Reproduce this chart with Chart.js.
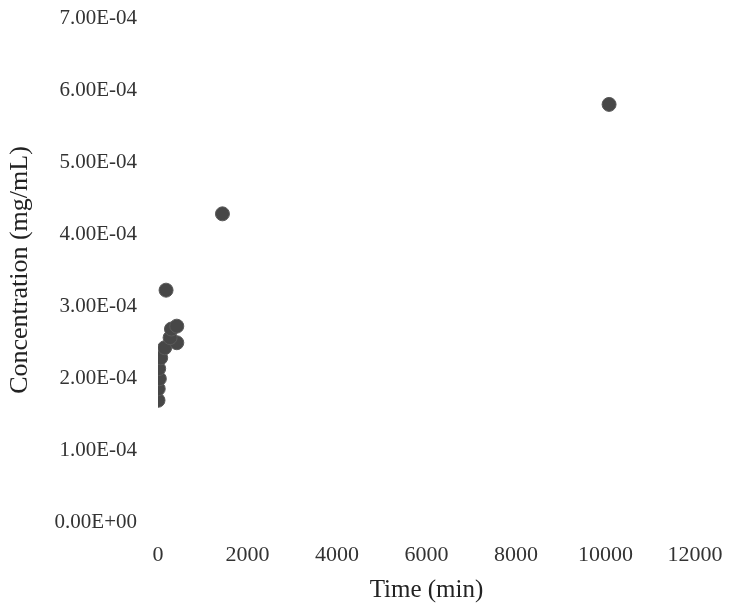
<!DOCTYPE html>
<html>
<head>
<meta charset="utf-8">
<script src="https://cdn.jsdelivr.net/npm/chart.js@4/dist/chart.umd.min.js"></script>
<style>
  html, body { margin: 0; padding: 0; background: #ffffff; }
  #wrap { width: 730px; height: 608px; }
</style>
</head>
<body>
<div id="wrap"><canvas id="c" width="730" height="608"></canvas></div>
<script>
// Time (min)
const timeMin = [0, 5, 30, 15, 60, 150, 420, 270, 300, 420, 180, 1440, 10080];
// Concentration (mg/mL)
const concentration = [1.69e-4, 1.85e-4, 1.99e-4, 2.13e-4, 2.28e-4, 2.42e-4, 2.49e-4, 2.56e-4, 2.68e-4, 2.72e-4, 3.22e-4, 4.28e-4, 5.80e-4];
const xTicks = [0, 2000, 4000, 6000, 8000, 10000, 12000];
const yTicks = [0, 1e-4, 2e-4, 3e-4, 4e-4, 5e-4, 6e-4, 7e-4];

function sci(v) {
  if (Math.abs(v) < 1e-12) return '0.00E+00';
  const s = v.toExponential(2).toUpperCase();
  const [m, e] = s.split('E');
  const sign = e[0] === '-' ? '-' : '+';
  const digits = e.replace(/[+-]/, '').padStart(2, '0');
  return m + 'E' + sign + digits;
}

const points = timeMin.map((t, i) => ({ x: t, y: concentration[i] }));
const fontFam = '"Liberation Serif", "DejaVu Serif", serif';

new Chart(document.getElementById('c'), {
  type: 'scatter',
  data: {
    datasets: [{
      data: points,
      pointRadius: 7,
      pointHoverRadius: 7,
      pointBackgroundColor: '#474747',
      pointBorderColor: '#5a5a5a',
      pointBorderWidth: 1
    }]
  },
  options: {
    responsive: false,
    animation: false,
    layout: { padding: { left: 5, right: 0, top: 0, bottom: 3 } },
    plugins: { legend: { display: false }, tooltip: { enabled: false } },
    scales: {
      x: {
        type: 'linear',
        min: 0, max: 12000,
        afterBuildTicks: (s) => { s.ticks = xTicks.map(v => ({ value: v })); },
        afterFit: (s) => { s.height = 83; s.paddingRight = 35; s.paddingLeft = 0; },
        grid: { display: false, drawTicks: false },
        border: { display: false },
        ticks: {
          padding: 20,
          color: '#333333',
          font: { family: fontFam, size: 22 },
          maxRotation: 0,
          callback: (v) => String(v)
        },
        title: {
          display: true,
          text: 'Time (min)',
          color: '#222222',
          font: { family: fontFam, size: 25 },
          padding: { top: 0, bottom: 0 }
        }
      },
      y: {
        type: 'linear',
        min: 0, max: 7e-4,
        afterBuildTicks: (s) => { s.ticks = yTicks.map(v => ({ value: v })); },
        afterFit: (s) => { s.width = 153; s.paddingTop = 18; s.paddingBottom = 0; },
        grid: { display: false, drawTicks: false },
        border: { display: false },
        ticks: {
          padding: 21,
          color: '#333333',
          font: { family: fontFam, size: 21 },
          callback: (v) => sci(v)
        },
        title: {
          display: true,
          text: 'Concentration (mg/mL)',
          color: '#222222',
          font: { family: fontFam, size: 26 },
          padding: { top: 0, bottom: 0 }
        }
      }
    }
  }
});
</script>
</body>
</html>
